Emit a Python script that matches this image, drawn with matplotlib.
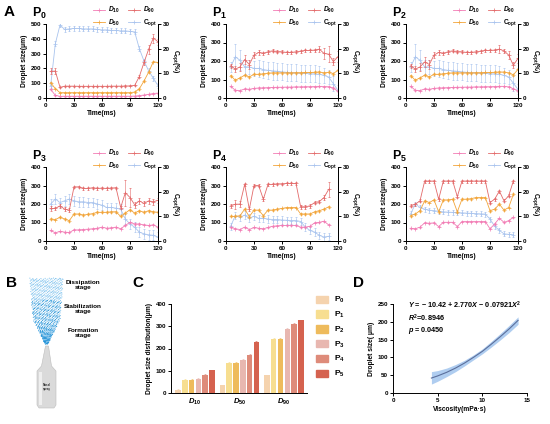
import matplotlib
matplotlib.use('Agg')
import matplotlib.pyplot as plt
import numpy as np
from matplotlib.lines import Line2D
from matplotlib.patches import Patch, Polygon

plt.rcParams.update({
    'font.family': ['Liberation Sans', 'DejaVu Sans'],
    'font.weight': 'bold',
    'axes.labelweight': 'bold',
    'mathtext.fontset': 'custom',
    'mathtext.rm': 'Liberation Sans:bold',
    'mathtext.it': 'Liberation Sans:italic:bold',
    'mathtext.bf': 'Liberation Sans:bold',
    'axes.linewidth': 0.7,
    'xtick.major.width': 0.7, 'ytick.major.width': 0.7,
    'xtick.major.size': 2, 'ytick.major.size': 2,
    'xtick.labelsize': 4.5, 'ytick.labelsize': 4.5,
    'xtick.major.pad': 1.5, 'ytick.major.pad': 1.5,
})

# ---------------- data: panel A ----------------
t24 = [5, 10, 15, 20, 25, 30, 35, 40, 45, 50, 55, 60, 65, 70, 75, 80, 85, 90, 95, 100, 105, 110, 115, 120]
t22 = t24[:22]
t23 = t24[:23]

p0_d10 = [58, 18, 11, 12, 12, 12, 12, 12, 12, 12, 12, 12, 12, 12, 12, 12, 12, 12, 13, 16, 20, 25, 30, 33]
p0_d50 = [104, 63, 36, 36, 36, 36, 36, 36, 36, 36, 36, 36, 36, 36, 36, 36, 36, 36, 40, 62, 115, 175, 245, 240]
p0_d90 = [180, 182, 72, 80, 80, 80, 79, 79, 79, 79, 79, 79, 79, 80, 80, 80, 81, 82, 85, 145, 240, 330, 405, 380]
p0_copt = [5, 22, 29.6, 27.8, 28, 28.2, 28.2, 28, 28, 28, 27.8, 27.6, 27.6, 27.4, 27.4, 27.2, 27.2, 27, 26.8, 20, 15, 11, 8, 5]
p0_d90_err = [20, 20, 5, 4, 4, 4, 4, 4, 4, 4, 4, 4, 4, 4, 4, 4, 4, 4, 5, 10, 15, 30, 30, 20]

p1_d10 = [63, 42, 40, 49, 47, 52, 54, 55, 56, 57, 58, 58, 59, 59, 60, 60, 61, 61, 62, 63, 62, 61, 54, 36]
p1_d50 = [121, 96, 109, 123, 114, 128, 128, 131, 134, 136, 136, 136, 136, 136, 137, 137, 138, 138, 139, 141, 136, 139, 132, 150]
p1_d90 = [174, 156, 168, 208, 181, 232, 246, 241, 250, 255, 251, 250, 246, 246, 250, 253, 257, 257, 259, 264, 241, 237, 197, 224]
p1_copt = [12.6, 16.7, 15.3, 12.6, 12.6, 12.0, 12.0, 11.5, 11.2, 11.0, 10.8, 10.6, 10.4, 10.2, 10.2, 10.0, 10.0, 9.8, 9.8, 9.6, 9.2, 8.5, 5.8, 3.1]
p1_copt_err = [2, 5, 4, 3, 3, 3, 3.5, 3.5, 3.5, 3.5, 3.5, 3.5, 3.5, 3.5, 3.5, 3.5, 3.5, 3.5, 3.5, 3.5, 3, 3, 3, 2]
p1_d90_err = [10, 15, 20, 25, 25, 15, 12, 10, 10, 8, 8, 8, 8, 8, 8, 8, 8, 8, 8, 15, 30, 45, 20, 30]

p2_d10 = [63, 42, 40, 49, 47, 52, 54, 55, 56, 57, 58, 58, 59, 59, 60, 60, 61, 61, 62, 63, 63, 60, 50, 38]
p2_d50 = [121, 96, 109, 123, 114, 128, 128, 131, 134, 136, 136, 136, 136, 136, 137, 137, 138, 138, 139, 141, 140, 136, 125, 155]
p2_d90 = [174, 156, 168, 195, 181, 232, 246, 241, 250, 255, 251, 250, 246, 246, 250, 253, 257, 257, 259, 264, 255, 232, 177, 214]
p2_copt = [12.6, 16.7, 15.3, 12.6, 12.6, 12.0, 12.0, 11.5, 11.2, 11.0, 10.8, 10.6, 10.4, 10.2, 10.2, 10.0, 10.0, 9.8, 9.8, 9.6, 9.2, 8.5, 6.0, 3.5]
p2_copt_err = [2, 5, 4, 3, 3, 3, 3.5, 3.5, 3.5, 3.5, 3.5, 3.5, 3.5, 3.5, 3.5, 3.5, 3.5, 3.5, 3.5, 3.5, 3, 3, 3, 2]
p2_d90_err = [10, 15, 20, 25, 25, 15, 12, 10, 10, 8, 8, 8, 8, 8, 8, 8, 8, 8, 8, 20, 10, 20, 15, 25]

p3_d10 = [57, 44, 52, 48, 46, 60, 60, 62, 64, 66, 69, 75, 69, 71, 75, 66, 84, 101, 92, 92, 87, 84, 87, 75]
p3_d50 = [119, 116, 128, 119, 110, 146, 146, 140, 144, 148, 155, 155, 155, 158, 158, 133, 151, 169, 151, 164, 155, 164, 158, 155]
p3_d90 = [176, 176, 190, 172, 167, 292, 293, 284, 284, 288, 284, 286, 284, 286, 288, 181, 261, 235, 196, 217, 203, 217, 212, 220]
p3_copt = [15, 17, 15.6, 16.3, 17, 16.3, 15.9, 15.9, 15.6, 15.6, 15, 14.5, 13.6, 13.6, 13.3, 12.9, 8.9, 6.9, 5.6, 3.6, 2.9, 2.5, 2.3, 1.6]
p3_d90_err = [12, 10, 10, 10, 10, 8, 6, 6, 6, 6, 6, 6, 6, 6, 6, 10, 70, 50, 15, 15, 15, 15, 15, 15]

p4_d10 = [75, 66, 62, 75, 62, 73, 69, 66, 73, 80, 82, 84, 84, 85, 84, 75, 75, 80, 98, 101, 107, 87]
p4_d50 = [133, 133, 137, 172, 132, 167, 167, 137, 167, 167, 172, 176, 181, 181, 181, 146, 146, 146, 158, 164, 172, 185]
p4_d90 = [190, 199, 199, 306, 172, 300, 300, 226, 306, 306, 309, 309, 311, 311, 311, 185, 185, 190, 208, 213, 235, 279]
p4_copt = [6, 10.3, 9.6, 10.5, 9.3, 10, 9.2, 9.2, 8.9, 8.7, 8.7, 8.5, 8.4, 8.3, 8.3, 7.9, 5.6, 4.3, 3.6, 2.3, 1.6, 1.9]
p4_d90_err = [10, 25, 15, 8, 10, 8, 8, 10, 6, 6, 6, 6, 6, 6, 6, 10, 10, 10, 10, 10, 15, 40]

p5_d10 = [69, 66, 75, 98, 96, 98, 78, 101, 101, 101, 78, 105, 105, 105, 105, 105, 105, 66, 92, 123, 101, 110, 128]
p5_d50 = [137, 146, 164, 217, 208, 222, 158, 222, 222, 226, 158, 226, 226, 229, 235, 235, 235, 164, 172, 199, 167, 181, 252]
p5_d90 = [190, 199, 217, 324, 324, 324, 226, 324, 324, 324, 240, 324, 324, 324, 324, 324, 324, 208, 226, 270, 217, 244, 324]
p5_copt = [11, 15, 13.6, 12.9, 12.5, 12.3, 12, 11.8, 11.7, 11.6, 11.5, 11.4, 11.3, 11.2, 11.1, 11.0, 10.9, 8.9, 6, 4.3, 2.9, 2.7, 2.5]

# ---------------- data: panel C ----------------
c_groups = ['$\\mathit{D}_{\\mathit{10}}$', '$\\mathit{D}_{\\mathit{50}}$', '$\\mathit{D}_{\\mathit{90}}$']
c_labels = ['P$_0$', 'P$_1$', 'P$_2$', 'P$_3$', 'P$_4$', 'P$_5$']
c_p0 = [15, 35, 80]
c_p1 = [60, 135, 244]
c_p2 = [60, 135, 244]
c_p3 = [64, 148, 289]
c_p4 = [82, 172, 310]
c_p5 = [102, 230, 327]
c_err = [2, 3, 3]

# ---------------- data: panel D ----------------
d_visc = [4.3, 5, 6, 7, 8, 9, 10, 11, 12, 13, 14]
d_fit = [42, 48, 58, 70, 84, 100, 117, 137, 158, 180, 204]
d_low = [25, 33, 46, 60, 76, 93, 110, 129, 149, 170, 193]
d_high = [60, 63, 70, 80, 92, 107, 124, 145, 167, 190, 214]

C10 = '#F27DB5'
C50 = '#F2A53A'
C90 = '#E36A6A'
CCO = '#A9C4EE'

W, H = 550, 424
fig = plt.figure(figsize=(5.5, 4.24), dpi=100)


def px_axes(x0, x1, ytop, ybot):
    return fig.add_axes([x0 / W, 1 - ybot / H, (x1 - x0) / W, (ybot - ytop) / H])


def eb(ax, t, v, err, c):
    ax.errorbar(t, v, yerr=err, color=c, lw=0.6, marker='+', ms=2.5, mew=0.5,
                elinewidth=0.4, capsize=0.8, capthick=0.4)


def panel_a(x0, ytop, sub, t, d10, d50, d90, copt, e90, eco, ymax):
    ybot = ytop + 74
    ax = px_axes(x0, x0 + 112, ytop, ybot)
    ax2 = ax.twinx()
    eb(ax2, t, copt, eco, CCO)
    eb(ax, t, d10, 3, C10)
    eb(ax, t, d50, 5, C50)
    eb(ax, t, d90, e90, C90)
    ax.set_zorder(ax2.get_zorder() + 1)
    ax.patch.set_visible(False)
    ax.set_xlim(0, 120)
    ax.set_xticks([0, 30, 60, 90, 120])
    ax.set_ylim(0, ymax)
    ax.set_yticks(np.arange(0, ymax + 1, 100))
    ax2.set_ylim(0, 30)
    ax2.set_yticks([0, 10, 20, 30])
    for a in (ax, ax2):
        a.spines['top'].set_visible(False)
    ax.set_xlabel('Time(ms)', fontsize=4.8, labelpad=1.5)
    ax.set_ylabel('Droplet size(μm)', fontsize=4.8, labelpad=2)
    ax2.set_ylabel('C$_{\\mathrm{opt}}$(%)', fontsize=4.8, rotation=270, labelpad=8)
    fig.text((x0 - 14) / W, 1 - (ytop - 11) / H, 'P$_{%s}$' % sub, fontsize=9,
             fontweight='bold', va='center', ha='left')
    handles = [Line2D([], [], color=C10, lw=0.6, marker='+', ms=3, mew=0.5),
               Line2D([], [], color=C50, lw=0.6, marker='+', ms=3, mew=0.5),
               Line2D([], [], color=C90, lw=0.6, marker='+', ms=3, mew=0.5),
               Line2D([], [], color=CCO, lw=0.6, marker='+', ms=3, mew=0.5)]
    labels = ['$\\mathit{D}_{\\mathit{10}}$', '$\\mathit{D}_{\\mathit{50}}$',
              '$\\mathit{D}_{\\mathit{90}}$', 'C$_{\\mathrm{opt}}$']
    ax.legend(handles, labels, ncol=2, loc='upper right', bbox_to_anchor=(1.03, 1 + 23 / 74),
              frameon=False, fontsize=4.8, handlelength=1.8, columnspacing=1.2,
              labelspacing=0.35, handletextpad=0.5, borderpad=0.1)
    return ax


panel_a(46, 24, '0', t24, p0_d10, p0_d50, p0_d90, p0_copt, p0_d90_err, 1, 500)
panel_a(226, 24, '1', t24, p1_d10, p1_d50, p1_d90, p1_copt, p1_d90_err, p1_copt_err, 400)
panel_a(406, 24, '2', t24, p2_d10, p2_d50, p2_d90, p2_copt, p2_d90_err, p2_copt_err, 400)
panel_a(46, 167, '3', t24, p3_d10, p3_d50, p3_d90, p3_copt, p3_d90_err, 2, 400)
panel_a(226, 167, '4', t22, p4_d10, p4_d50, p4_d90, p4_copt, p4_d90_err, 1.5, 400)
panel_a(406, 167, '5', t23, p5_d10, p5_d50, p5_d90, p5_copt, 8, 1, 400)

# ---------------- panel B (illustration) ----------------
axb = fig.add_axes([0, 0, 130 / W, 154 / H])
axb.set_xlim(0, 130)
axb.set_ylim(424, 270)
axb.axis('off')
n = 900
g1, g2 = 0.7548776662, 0.5698402910
ys, xs, cs = [], [], []
for i in range(n):
    u = (0.5 + g1 * i) % 1.0
    v = (0.5 + g2 * i) % 1.0
    y = 278 + 66 * u
    if y < 320:
        hw = 17 - 3.5 * (y - 278) / 42
    else:
        hw = 13.5 - 12 * (y - 320) / 24
    x = 46.5 + (2 * v - 1) * hw
    ys.append(y)
    xs.append(x)
    cs.append('#1C8FD6' if (y > 300 and (i % 3 != 0)) else '#7EC2EE')
axb.scatter(xs, ys, s=0.6, c=cs, linewidths=0)
nozzle = Polygon([(45.5, 346), (48.5, 346), (51.5, 366), (56, 371), (56, 405), (54, 408),
                  (39, 408), (37, 405), (37, 371), (41.5, 366)], closed=True,
                 facecolor='#DADADA', edgecolor='#BDBDBD', lw=0.4)
axb.add_patch(nozzle)
axb.add_patch(Polygon([(39, 372), (42, 372), (42, 405), (39, 405)], closed=True,
                      facecolor='#EFEFEF', edgecolor='none'))
axb.text(47, 387, 'Nasal\nspray', fontsize=2.2, ha='center', va='center', color='#333333')
for yy, s in [(285, 'Dissipation\nstage'), (309, 'Stabilization\nstage'), (333, 'Formation\nstage')]:
    axb.text(83, yy, s, fontsize=4.6, ha='center', va='center', fontweight='bold',
             linespacing=1.1)

# ---------------- panel C ----------------
axc = px_axes(171, 307, 304, 393)
cvals = [c_p0, c_p1, c_p2, c_p3, c_p4, c_p5]
ccols = ['#F5D3AE', '#F7DE90', '#EEBB5C', '#E8B7B0', '#DE8B7A', '#D5624F']
gx = np.arange(3)
for k in range(6):
    axc.bar(gx + (k - 2.5) * 0.153, cvals[k], 0.125, color=ccols[k], label=c_labels[k],
            yerr=c_err, error_kw=dict(lw=0.4, capsize=0.8, capthick=0.4, ecolor=ccols[k]))
axc.set_xlim(-0.54, 2.52)
axc.set_ylim(0, 400)
axc.set_yticks([0, 100, 200, 300, 400])
axc.set_xticks(gx)
axc.set_xticklabels(c_groups, fontsize=5.5)
axc.tick_params(axis='x', length=0, pad=3)
axc.spines['top'].set_visible(False)
axc.spines['right'].set_visible(False)
axc.set_ylabel('Droplet size distribution(μm)', fontsize=4.8, labelpad=2)
fig.legend(handles=[Patch(color=ccols[k]) for k in range(6)], labels=c_labels,
           loc='upper left', bbox_to_anchor=(312 / W, 1 - 291 / H), frameon=False,
           fontsize=6, handlelength=1.4, handleheight=1.0, labelspacing=0.55,
           handletextpad=0.7, borderpad=0)

# ---------------- panel D ----------------
axd = px_axes(393, 527, 304, 393)
axd.fill_between(d_visc, d_low, d_high, color='#AFCDF0', lw=0)
axd.plot(d_visc, d_fit, color='#5B6F9C', lw=0.8)
axd.set_xlim(0, 15)
axd.set_ylim(0, 250)
axd.set_xticks([0, 5, 10, 15])
axd.set_yticks([0, 50, 100, 150, 200, 250])
axd.spines['top'].set_visible(False)
axd.spines['right'].set_visible(False)
axd.set_ylabel('Droplet size( μm)', fontsize=4.8, labelpad=2)
axd.set_xlabel('Viscosity(mPa·s)', fontsize=4.8, labelpad=2)
axd.text(0.11, 0.985, '$\\mathit{Y}$ = − 10.42 + 2.770$\\mathit{X}$ − 0.07921$\\mathit{X}^{2}$',
         transform=axd.transAxes, fontsize=5.2, va='center', ha='left')
axd.text(0.11, 0.835, '$\\mathit{R}^{2}$=0.8946', transform=axd.transAxes, fontsize=5.2,
         va='center', ha='left')
axd.text(0.11, 0.70, '$\\mathit{p}$ = 0.0450', transform=axd.transAxes, fontsize=5.2,
         va='center', ha='left')

# ---------------- panel letters ----------------
for (x, y, s) in [(4, 12, 'A'), (6, 283, 'B'), (132, 283, 'C'), (353, 283, 'D')]:
    fig.text(x / W, 1 - y / H, s, fontsize=11, fontweight='bold', va='center', ha='left')

fig.savefig('out.png', dpi=100)
